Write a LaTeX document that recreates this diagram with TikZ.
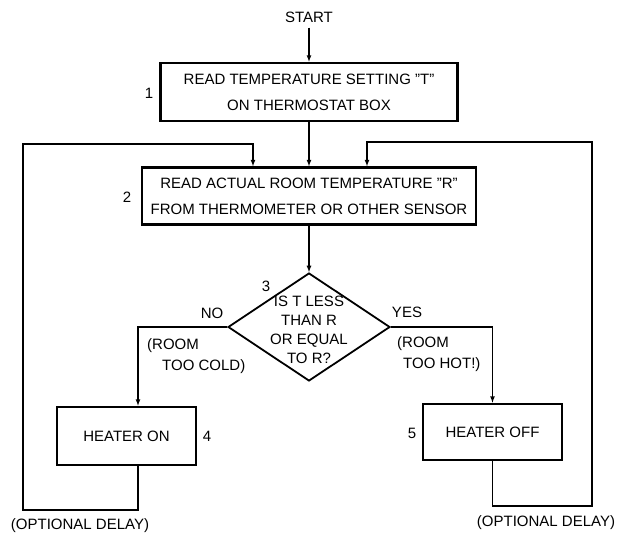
\documentclass[tikz,border=0pt]{standalone}
\usepackage{fontspec}
\setmainfont{Liberation Sans}
\usetikzlibrary{shapes.geometric}
\tikzset{
  procbox/.style={draw,line width=2.6pt,align=center,inner sep=0pt,font=\fontsize{15}{26}\selectfont},
  decision/.style={draw,diamond,line width=1.8pt,minimum width=162pt,minimum height=108pt,inner sep=0pt},
  flowline/.style={-latex,line width=1.2pt},
  tag/.style={font=\fontsize{15}{21}\selectfont,inner sep=2pt}
}
\begin{document}
\begin{tikzpicture}[x=1pt,y=-1pt]
  \useasboundingbox (0,0) rectangle (622,535);

  \node[tag,inner sep=5pt] (start) at (309,17) {START};
  \node[procbox,minimum width=297pt,minimum height=58pt] (readT) at (309,92)
    {READ TEMPERATURE SETTING "T"\\ON THERMOSTAT BOX};
  \node[procbox,minimum width=334pt,minimum height=57pt] (readR) at (309,196)
    {READ ACTUAL ROOM TEMPERATURE "R"\\FROM THERMOMETER OR OTHER SENSOR};
  \node[decision] (dia) at (309,327) {};
  \node[font=\fontsize{15}{19}\selectfont,align=center,inner sep=0pt] (question) at (309,330)
    {IS T LESS\\THAN R\\OR EQUAL\\TO R?};
  \node[procbox,minimum width=139pt,minimum height=58pt] (heatOn) at (126.5,436) {HEATER ON};
  \node[procbox,minimum width=139pt,minimum height=56pt] (heatOff) at (492.5,432) {HEATER OFF};

  \coordinate (noBend) at (138,327);
  \coordinate (yesBend) at (492.5,327);
  \coordinate (loopLB) at (23,510);
  \coordinate (loopLT) at (23,144);
  \coordinate (loopRB) at (592,506);
  \coordinate (loopRT) at (592,142);

  \draw[flowline] (start) -- (readT);
  \draw[flowline] (readT) -- (readR);
  \draw[flowline] (readR) -- (dia);
  \draw[flowline] (dia.west) -- (noBend) -- (noBend |- heatOn.north);
  \draw[flowline] (dia.east) -- (yesBend) -- (heatOff.north);
  \draw[flowline] (noBend |- heatOn.south) -- (noBend |- loopLB) -- (loopLB) -- (loopLT)
    -| ([xshift=-56pt]readR.north);
  \draw[flowline] (heatOff.south) -- (heatOff.south |- loopRB) -- (loopRB) -- (loopRT)
    -| ([xshift=58pt]readR.north);

  \node[tag] (num1) at (149,93) {1};
  \node[tag] (num2) at (127,197) {2};
  \node[tag] (num3) at (266,286) {3};
  \node[tag] (num4) at (207,436) {4};
  \node[tag] (num5) at (412,433) {5};
  \node[tag] (noLbl) at (212,313) {NO};
  \node[tag] (yesLbl) at (407,312) {YES};
  \node[tag,align=left,anchor=west] (coldLbl) at (145,356) {(ROOM\\\hspace*{15pt}TOO COLD)};
  \node[tag,align=left,anchor=west] (hotLbl) at (395,354) {(ROOM\\\hspace*{6pt}TOO HOT!)};
  \node[tag] (delayL) at (80,526) {(OPTIONAL DELAY)};
  \node[tag] (delayR) at (546,523) {(OPTIONAL DELAY)};
\end{tikzpicture}
\end{document}
